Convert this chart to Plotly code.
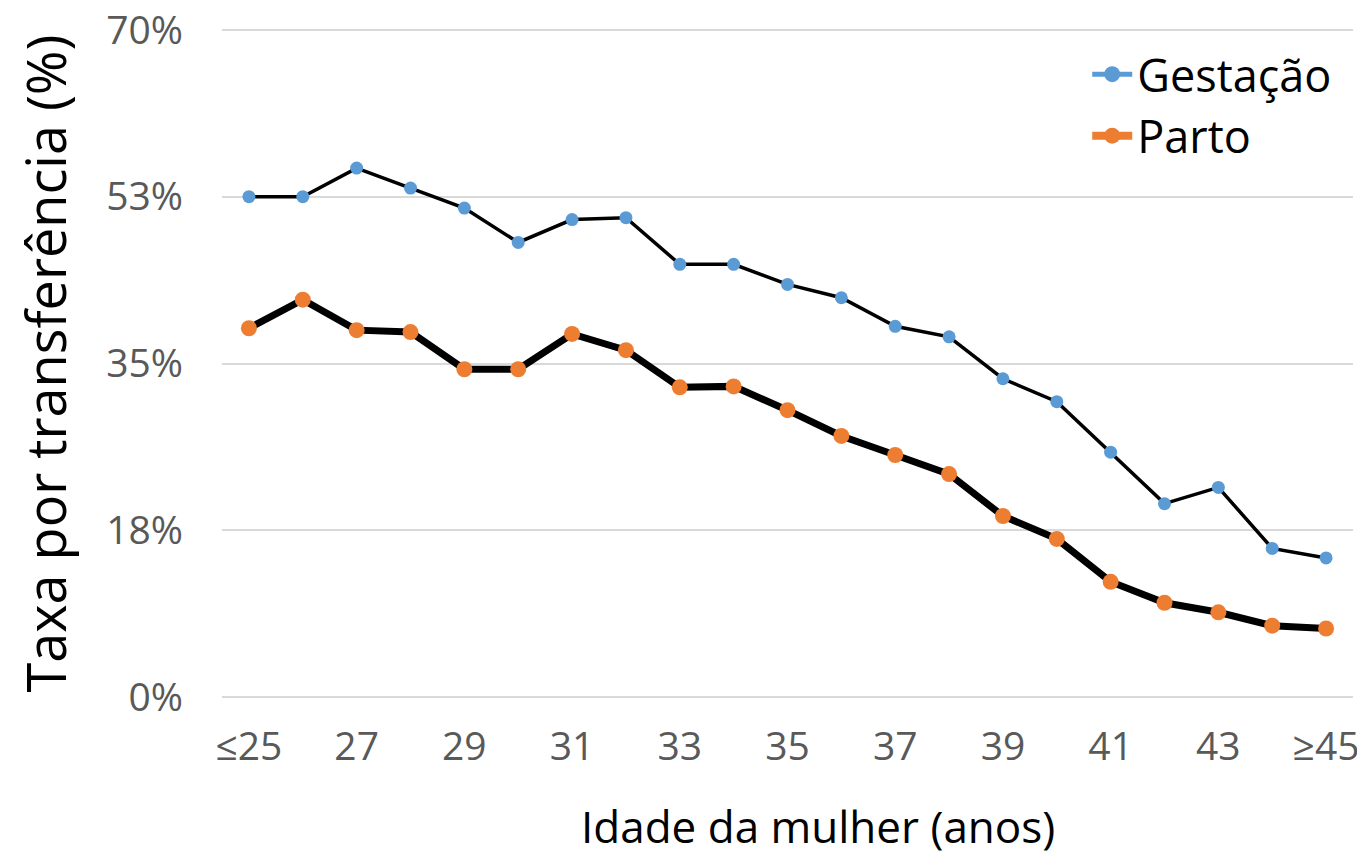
import plotly.graph_objects as go

# categorias (idade da mulher)
idades = ["≤25", "26", "27", "28", "29", "30", "31", "32", "33", "34", "35",
          "36", "37", "38", "39", "40", "41", "42", "43", "44", "≥45"]

gestacao = [52.5, 52.5, 55.5, 53.4, 51.3, 47.7, 50.1, 50.3, 45.4, 45.4, 43.3,
            41.9, 38.9, 37.8, 33.4, 31.0, 25.7, 20.3, 22.0, 15.6, 14.6]
parto = [38.7, 41.7, 38.5, 38.3, 34.4, 34.4, 38.1, 36.4, 32.5, 32.6, 30.1,
         27.4, 25.4, 23.4, 19.0, 16.6, 12.1, 9.9, 8.9, 7.5, 7.2]

y_ticks = [0, 17.5, 35, 52.5, 70]
y_labels = ["0%", "18%", "35%", "53%", "70%"]
x_ticks = idades[::2]

AZUL = "#5B9BD5"
LARANJA = "#ED7D31"
FONTE = "Open Sans"

fig = go.Figure()

# series (black lines, coloured markers)
fig.add_trace(go.Scatter(
    x=idades, y=gestacao, mode="lines+markers", showlegend=False,
    line=dict(color="black", width=3.5),
    marker=dict(color=AZUL, size=13)))
fig.add_trace(go.Scatter(
    x=idades, y=parto, mode="lines+markers", showlegend=False,
    line=dict(color="black", width=7),
    marker=dict(color=LARANJA, size=16)))

# legend entries drawn in series colours
fig.add_trace(go.Scatter(
    x=[None], y=[None], mode="lines+markers", name="Gestação",
    line=dict(color=AZUL, width=5), marker=dict(color=AZUL, size=24)))
fig.add_trace(go.Scatter(
    x=[None], y=[None], mode="lines+markers", name="Parto",
    line=dict(color=LARANJA, width=8), marker=dict(color=LARANJA, size=26)))

# page body has an 8px margin, so the figure is 8px smaller than the window
fig.update_layout(
    width=1357, height=849,
    margin=dict(l=214, r=12, t=19, b=157, autoexpand=False),
    paper_bgcolor="white", plot_bgcolor="white",
    font=dict(family=FONTE, color="black"),
    legend=dict(
        x=0.765, y=0.983, xanchor="left", yanchor="top",
        font=dict(size=45, color="black"),
        bgcolor="rgba(0,0,0,0)", itemwidth=40, tracegroupgap=0),
    xaxis=dict(
        type="category", categoryorder="array", categoryarray=idades,
        range=[-0.5, len(idades) - 0.5],
        tickvals=x_ticks, ticktext=x_ticks,
        tickfont=dict(size=39, color="#595959"),
        showgrid=False, showline=False, zeroline=False, ticks="",
        ticklabelstandoff=20, automargin=False, ticklabeloverflow="allow"),
    yaxis=dict(
        range=[-0.3, 70.3], tickvals=y_ticks, ticktext=y_labels,
        tickfont=dict(size=39, color="#595959"),
        showgrid=True, gridcolor="#D9D9D9", gridwidth=2,
        zeroline=False, showline=False, ticks="",
        ticklabelstandoff=38, automargin=False, ticklabeloverflow="allow",
        title=dict(text="Taxa por transferência (%)", font=dict(size=54, color="black"),
                   standoff=40)),
)

# x title sits a little right of the plot centre in the original
fig.add_annotation(
    text="Idade da mulher (anos)", xref="paper", yref="paper",
    x=0.527, y=-0.187, xanchor="center", yanchor="middle",
    showarrow=False, font=dict(size=44, color="black"))

fig.write_html("out.html")
